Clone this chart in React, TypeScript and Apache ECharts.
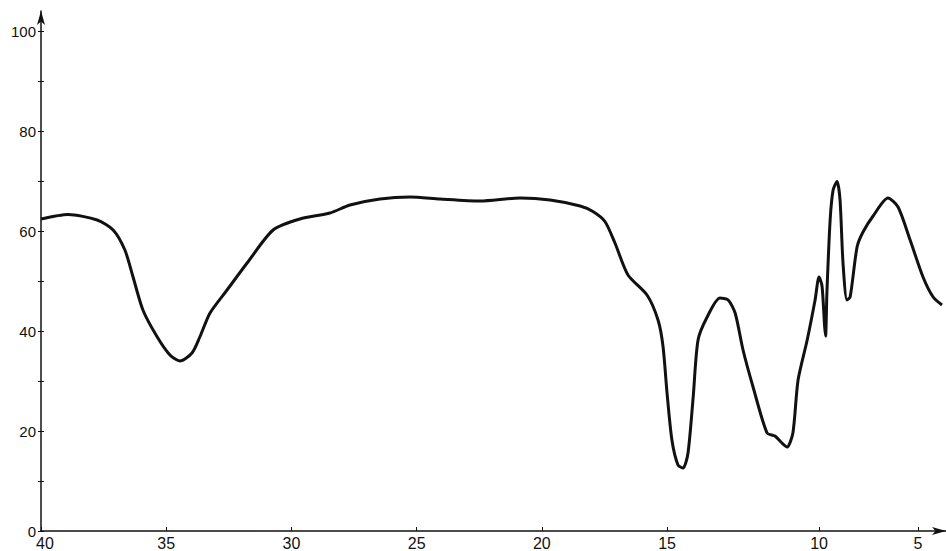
import React, { useEffect, useRef } from "react";
import * as echarts from "echarts";

// Wavenumber (x100 cm-1) as printed on the axis
const wavenumber = [
  40.0, 38.92, 37.76, 37.12, 36.65, 36.33, 35.93, 35.37, 34.85, 34.45, 33.97, 33.65, 33.25, 32.57, 31.77,
  30.73, 29.66, 28.46, 27.66, 26.46, 25.26, 24.07, 22.47, 20.87, 19.67, 18.47, 17.96, 17.48, 17.08, 16.56,
  15.8, 15.36, 15.16, 15.0, 14.84, 14.64, 14.47, 14.31, 14.14, 13.98, 13.68, 13.26, 12.99, 12.76, 12.5,
  12.17, 11.71, 11.45, 11.22, 11.05, 10.86, 10.69, 10.39, 10.13, 10.0, 9.85, 9.72, 9.67, 9.6, 9.44,
  9.29, 9.09, 8.94, 8.79, 8.59, 8.43, 8.08, 7.78, 7.27, 6.52, 6.01, 5.4, 4.75, 4.24, 3.79,
];
// Transmittance (%)
const transmittance = [
  62.4, 63.3, 62.2, 60.2, 56.2, 50.9, 44.2, 38.9, 35.2, 34.0, 35.6, 38.9, 43.6, 48.2, 53.6,
  60.2, 62.4, 63.6, 65.2, 66.4, 66.8, 66.4, 66.0, 66.6, 66.2, 65.0, 63.9, 61.9, 57.6, 51.2,
  47.2, 42.2, 36.9, 27.6, 18.2, 13.2, 12.6, 15.6, 26.8, 38.2, 42.8, 46.6, 46.2, 43.6, 36.2,
  28.8, 19.6, 19.0, 17.6, 16.8, 19.6, 30.2, 38.2, 46.2, 50.8, 49.0, 41.0, 39.0, 48.0, 62.2,
  68.2, 69.9, 66.2, 53.6, 46.2, 46.8, 56.8, 59.8, 63.0, 66.6, 64.8, 58.2, 50.8, 46.8, 45.2,
];
const xTickValues = [40, 35, 30, 25, 20, 15, 10, 5];
const xTickLabels = ["40", "35", "30", "25", "20", "15", "10", "5"];
const yTickValues = [0, 20, 40, 60, 80, 100];
const yTickLabels = ["0", "20", "40", "60", "80", "100"];
const yMinorTicks = [0, 10, 20, 30, 40, 50, 60, 70, 80, 90, 100];

// The printed scale changes at 15 and at 10: piecewise linear display coordinate
const SEG_B = 30.4 / 25.04;
const SEG_C = 19.8 / 25.04;
function toU(w: number): number {
  if (w >= 15) return 40 - w;
  if (w >= 10) return 25 + (15 - w) * SEG_B;
  return 25 + 5 * SEG_B + (10 - w) * SEG_C;
}

export default function App() {
  const ref = useRef<HTMLDivElement>(null);
  useEffect(() => {
    if (!ref.current) return;
    const chart = echarts.init(ref.current, undefined, { renderer: "svg" });
    const xTickU = xTickValues.map(toU);
    const labelFor = (u: number) => {
      for (let i = 0; i < xTickU.length; i++) {
        if (Math.abs(xTickU[i] - u) < 1e-6) {
          return i === 0 ? "{first|" + xTickLabels[i] + "}" : xTickLabels[i];
        }
      }
      return "";
    };
    const yLabelFor = (v: number) => {
      const i = yTickValues.indexOf(v);
      return i >= 0 ? yTickLabels[i] : "";
    };
    const font = "Liberation Sans";
    chart.setOption({
      animation: false,
      backgroundColor: "#ffffff",
      grid: { left: 41, right: 0, top: 11, bottom: 20, containLabel: false },
      xAxis: {
        type: "value",
        min: 0,
        max: 36.14,
        axisLine: {
          show: true,
          lineStyle: { color: "#111", width: 1.5 },
          symbol: ["none", "arrow"],
          symbolSize: [6, 14],
        },
        axisTick: { show: true, customValues: xTickU, length: 4, inside: true, lineStyle: { color: "#111" } },
        axisLabel: {
          show: true,
          customValues: xTickU,
          formatter: (v: number) => labelFor(v),
          color: "#111",
          fontFamily: font,
          fontSize: 16,
          margin: 4,
          rich: {
            first: { color: "#111", fontFamily: font, fontSize: 16, padding: [0, 0, 0, 8] },
          },
        },
        splitLine: { show: false },
      },
      yAxis: [
        {
          type: "value",
          min: 0,
          max: 104,
          axisLine: {
            show: true,
            lineStyle: { color: "#111", width: 1.5 },
            symbol: ["none", "arrow"],
            symbolSize: [6, 14],
          },
          axisTick: { show: true, customValues: yMinorTicks, length: 3, lineStyle: { color: "#111" } },
          axisLabel: {
            show: true,
            customValues: yTickValues,
            formatter: (v: number) => yLabelFor(v),
            color: "#111",
            fontFamily: font,
            fontSize: 15,
            margin: 5,
          },
          splitLine: { show: false },
        },
        {
          type: "value",
          min: 0,
          max: 104,
          position: "left",
          axisLine: { show: false },
          axisTick: { show: true, customValues: yMinorTicks, length: 3, inside: true, lineStyle: { color: "#111" } },
          axisLabel: { show: false },
          splitLine: { show: false },
        },
      ],
      series: [
        {
          type: "line",
          data: wavenumber.map((w, i) => [toU(w), transmittance[i]]),
          showSymbol: false,
          smooth: 0.25,
          lineStyle: { color: "#111", width: 3 },
        },
      ],
    });
    return () => chart.dispose();
  }, []);
  return (
    <div
      ref={ref}
      style={{ position: "absolute", left: 0, top: 0, width: 946, height: 551, background: "#fff" }}
    />
  );
}
